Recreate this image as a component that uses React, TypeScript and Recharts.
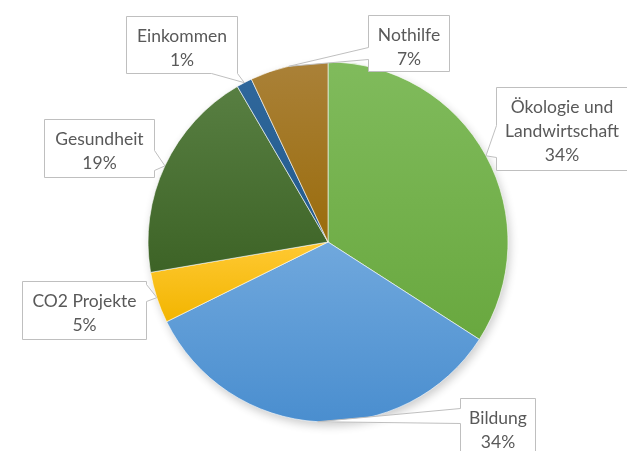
import { PieChart, Pie, Cell } from "recharts"

const categories = [
  "Ökologie und Landwirtschaft",
  "Bildung",
  "CO2 Projekte",
  "Gesundheit",
  "Einkommen",
  "Nothilfe",
]
const shares = [34.1, 33.6, 4.6, 19.3, 1.4, 7.0]

// Excel-like fills, lighter at the top of each slice
const topColors = ["#80bb5c", "#70a8dd", "#ffc933", "#587f42", "#2f679b", "#aa8138"]
const bottomColors = ["#69a83f", "#4a8ecf", "#f2b500", "#3d6326", "#235a8c", "#9a6c0c"]

// callout boxes, placed relative to the tip of each slice
const callouts = [
  { dx: 10, dy: -69, w: 131, h: 83, side: "left", b0: 38, b1: 70 },
  { dx: 142, dy: -24, w: 75, h: 62, side: "left", b0: 10, b1: 25 },
  { dx: -135, dy: -17, w: 124, h: 58, side: "right", b0: 3, b1: 20 },
  { dx: -121, dy: -47, w: 110, h: 58, side: "right", b0: 31, b1: 51 },
  { dx: -118, dy: -67, w: 111, h: 57, side: "bottom", b0: 85, b1: 111 },
  { dx: 79, dy: -51, w: 81, h: 56, side: "left", b0: 32, b1: 44 },
]

const data = categories.map((name, i) => ({ name, value: shares[i] }))

const RADIAN = Math.PI / 180
const FONT = "Lato, 'Noto Sans', sans-serif"

function wrap(text: string, max = 14): string[] {
  const lines: string[] = []
  let cur = ""
  for (const w of text.split(" ")) {
    if (cur && (cur + " " + w).length > max) {
      lines.push(cur)
      cur = w
    } else {
      cur = cur ? cur + " " + w : w
    }
  }
  if (cur) lines.push(cur)
  return lines
}

function boxPath(x: number, y: number, w: number, h: number, c: any, ax: number, ay: number) {
  if (c.side === "left")
    return `M${x},${y} H${x + w} V${y + h} H${x} V${y + c.b1} L${ax},${ay} L${x},${y + c.b0} Z`
  if (c.side === "right")
    return `M${x},${y} H${x + w} V${y + c.b0} L${ax},${ay} L${x + w},${y + c.b1} V${y + h} H${x} Z`
  return `M${x},${y} H${x + w} V${y + h} H${x + c.b1} L${ax},${ay} L${x + c.b0},${y + h} H${x} Z`
}

function Callout(props: any) {
  const { cx, cy, midAngle, outerRadius, percent, name, index } = props
  const c = callouts[index]
  const ax = cx + outerRadius * Math.cos(-midAngle * RADIAN)
  const ay = cy + outerRadius * Math.sin(-midAngle * RADIAN)
  const x = Math.round(ax + c.dx) + 0.5
  const y = Math.round(ay + c.dy) + 0.5
  const lines = [...wrap(name), `${Math.round(percent * 100)}%`]
  return (
    <g>
      <path d={boxPath(x, y, c.w, c.h, c, ax, ay)} fill="#fff" stroke="#bfbfbf" strokeWidth={1} />
      {lines.map((l, i) => (
        <text
          key={i}
          x={x + c.w / 2}
          y={y + 19 + i * 24}
          textAnchor="middle"
          dominantBaseline="central"
          fontFamily={FONT}
          fontSize={17.5}
          fill="#595959"
        >
          {l}
        </text>
      ))}
    </g>
  )
}

export default function App() {
  return (
    <div style={{ position: "absolute", left: 0, top: 0, background: "#fff" }}>
      <style>{`.pie-shadow { filter: blur(3px); opacity: 0.45; }`}</style>
      <PieChart width={627} height={451} margin={{ top: 0, right: 0, bottom: 0, left: 0 }}>
        <defs>
          {topColors.map((c, i) => (
            <linearGradient key={i} id={`g${i}`} x1="0" y1="0" x2="0" y2="1">
              <stop offset="0%" stopColor={c} />
              <stop offset="100%" stopColor={bottomColors[i]} />
            </linearGradient>
          ))}
        </defs>
        <Pie
          data={data}
          dataKey="value"
          nameKey="name"
          cx={330}
          cy={246}
          outerRadius={180}
          startAngle={90}
          endAngle={-270}
          fill="#000"
          stroke="none"
          className="pie-shadow"
          label={false}
          labelLine={false}
          legendType="none"
          isAnimationActive={false}
        />
        <Pie
          data={data}
          dataKey="value"
          nameKey="name"
          cx={328}
          cy={242}
          outerRadius={180}
          startAngle={90}
          endAngle={-270}
          stroke="#ffffff"
          strokeWidth={0.6}
          label={Callout}
          labelLine={false}
          isAnimationActive={false}
        >
          {data.map((d, i) => (
            <Cell key={d.name} fill={`url(#g${i})`} />
          ))}
        </Pie>
      </PieChart>
    </div>
  )
}
